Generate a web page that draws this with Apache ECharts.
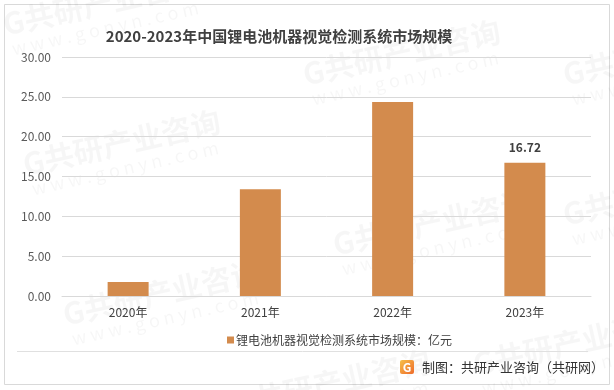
<!DOCTYPE html>
<html><head><meta charset="utf-8">
<script src="https://cdn.jsdelivr.net/npm/echarts@6/dist/echarts.min.js"></script>
<style>html,body{margin:0;padding:0;background:#fff}#c{width:614px;height:390px}</style>
</head><body><div id="c"></div>
<script>
const categories = ['2020年','2021年','2022年','2023年'];
const values = [1.76, 13.4, 24.35, 16.72];
const yTicks = [0, 5, 10, 15, 20, 25, 30];
const seriesName = '锂电池机器视觉检测系统市场规模：亿元';
const titleText = '2020-2023年中国锂电池机器视觉检测系统市场规模';
const footerText = '制图：共研产业咨询（共研网）';

const FONT = '"Noto Sans CJK SC", "Noto Sans", sans-serif';
const chart = echarts.init(document.getElementById('c'), null, {renderer: 'canvas'});

const wm = [];
const wmPos = [[20,150],[60,300],[300,60],[330,230],[560,60],[560,200],[0,10],[620,350],[230,390],[470,350]];
wmPos.forEach(p => {
  wm.push({type:'text', x:p[0], y:p[1], rotation: 0.22, z:-10, silent:true,
    style:{text:'G共研产业咨询', fill:'rgba(0,0,0,0.035)', font:'bold 30px ' + FONT}});
  wm.push({type:'text', x:p[0]+10, y:p[1]+30, rotation: 0.22, z:-10, silent:true,
    style:{text:'w w w . g o n y n . c o m', fill:'rgba(0,0,0,0.035)', font:'18px ' + FONT}});
});

chart.setOption({
  animation: false,
  backgroundColor: '#fff',
  title: {
    text: titleText, left: 274, top: 24, textAlign: 'center',
    textStyle: {fontFamily: FONT, fontSize: 15, fontWeight: 'bold', color: '#404040'}
  },
  legend: {
    data: [seriesName], left: 222, top: 329, itemWidth: 7, itemHeight: 7, itemGap: 4,
    icon: 'rect',
    textStyle: {fontFamily: FONT, fontSize: 12, color: '#404040', padding: [0,0,0,-3]}
  },
  grid: {left: 62, right: 23, top: 57, bottom: 94},
  xAxis: {
    type: 'category', data: categories,
    axisLine: {lineStyle: {color: '#d9d9d9'}},
    axisTick: {show: false},
    axisLabel: {fontFamily: FONT, fontSize: 12, color: '#404040', margin: 10}
  },
  yAxis: {
    type: 'value', min: 0, max: 30, interval: 5,
    axisLabel: {fontFamily: FONT, fontSize: 12, color: '#595959', margin: 11,
      formatter: v => v.toFixed(2)},
    splitLine: {lineStyle: {color: '#d9d9d9'}},
    axisLine: {show: false}, axisTick: {show: false}
  },
  series: [{
    name: seriesName, type: 'bar', data: values.map((v,i) => i === 3 ? {value: v, label: {show: true}} : v),
    barWidth: '31%',
    itemStyle: {color: '#D38B4D'},
    label: {show: false, position: 'top', distance: 9, fontFamily: FONT, fontSize: 12,
      fontWeight: 'bold', color: '#404040', formatter: p => p.value.toFixed(2)}
  }],
  graphic: wm.concat([
    {type:'rect', shape:{x:4.5, y:4.5, width:605, height:380}, z:-20, silent:true,
      style:{fill:null, stroke:'#d9d9d9', lineWidth:1}},
    {type:'line', shape:{x1:17, y1:351.5, x2:588, y2:351.5}, silent:true,
      style:{stroke:'#e0e0e0', lineWidth:1}},
    {type:'rect', shape:{x:400, y:360, width:14, height:14, r:2}, silent:true,
      style:{fill: new echarts.graphic.LinearGradient(0,0,1,1,[{offset:0,color:'#f6c04a'},{offset:1,color:'#ee6a2a'}])}},
    {type:'text', x:407, y:367, silent:true,
      style:{text:'G', fill:'#fff', font:'bold 12px ' + FONT, align:'center', verticalAlign:'middle'}},
    {type:'text', x:422, y:367, silent:true,
      style:{text:footerText, fill:'#333', font:'13px ' + FONT, verticalAlign:'middle'}}
  ])
});
</script></body></html>
